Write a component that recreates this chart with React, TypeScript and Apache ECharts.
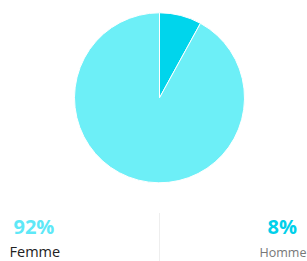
import React, { useEffect, useRef } from "react";
import * as echarts from "echarts";

const categories = ["Homme", "Femme"];
const values = [8, 92];
const sliceColors = ["#00d5ec", "#6defF7"];
const pctColors = ["#00d0ea", "#5ee8f7"];

export default function App() {
  const ref = useRef<HTMLDivElement>(null);
  useEffect(() => {
    if (!ref.current) return;
    const chart = echarts.init(ref.current, undefined, { renderer: "svg" });
    const font = "'Open Sans', sans-serif";
    chart.setOption({
      animation: false,
      backgroundColor: "#ffffff",
      series: [
        {
          type: "pie",
          center: [159.5, 97.8],
          radius: [0, 85],
          startAngle: 90,
          clockwise: true,
          label: { show: false },
          labelLine: { show: false },
          silent: true,
          itemStyle: { borderColor: "#ffffff", borderWidth: 1 },
          data: categories.map((c, i) => ({
            name: c,
            value: values[i],
            itemStyle: { color: sliceColors[i] },
          })),
        },
      ],
      graphic: [
        {
          type: "line",
          shape: { x1: 159.5, y1: 213, x2: 159.5, y2: 261 },
          style: { stroke: "#eeeeee", lineWidth: 1 },
        },
        {
          type: "text",
          x: 13.5,
          y: 226.5,
          style: { text: values[1] + "%", fill: pctColors[1], font: "bold 20px " + font, verticalAlign: "middle" },
        },
        {
          type: "text",
          x: 9.5,
          y: 251,
          style: { text: categories[1], fill: "#222222", font: "500 14.5px " + font, verticalAlign: "middle" },
        },
        {
          type: "text",
          x: 267.5,
          y: 226.5,
          style: { text: values[0] + "%", fill: pctColors[0], font: "bold 20px " + font, verticalAlign: "middle" },
        },
        {
          type: "text",
          x: 259.5,
          y: 252.5,
          style: { text: categories[0], fill: "#777777", font: "500 12.5px " + font, verticalAlign: "middle" },
        },
      ],
    });
    return () => chart.dispose();
  }, []);
  return (
    <div
      ref={ref}
      style={{ position: "fixed", left: 0, top: 0, width: 307, height: 261 }}
    />
  );
}
